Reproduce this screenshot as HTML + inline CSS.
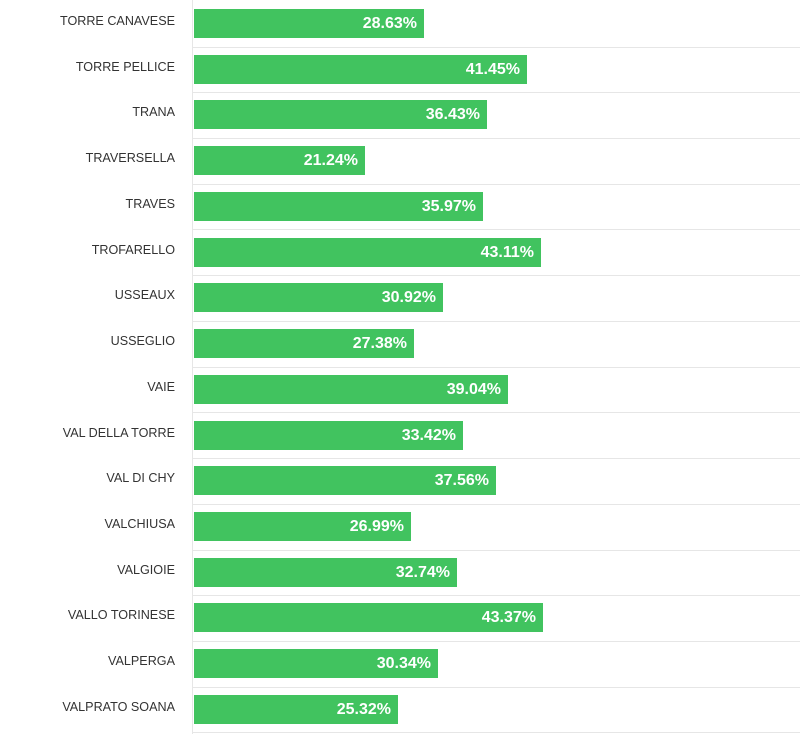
<!DOCTYPE html>
<html><head><style>
body{margin:0;width:800px;height:734px;background:#fff;position:relative;overflow:hidden;font-family:"Liberation Sans",Arial,sans-serif}
.ax{position:absolute;left:192px;top:0;width:1px;height:734px;background:#e6e6e6}
.g{position:absolute;left:193px;width:607px;height:1px;background:#e6e6e6}
.l{position:absolute;right:625px;font-size:12.6px;color:#333;white-space:nowrap;line-height:15px}
.b{position:absolute;left:194px;height:29px;background:#41c35f;color:#fff;font-weight:bold;font-size:16px;line-height:29px;text-align:right;box-sizing:border-box;padding-right:7px}
</style></head><body>
<div class="ax"></div>
<div id="c"></div>
<script>
var d=[["TORRE CANAVESE",28.63],["TORRE PELLICE",41.45],["TRANA",36.43],["TRAVERSELLA",21.24],["TRAVES",35.97],["TROFARELLO",43.11],["USSEAUX",30.92],["USSEGLIO",27.38],["VAIE",39.04],["VAL DELLA TORRE",33.42],["VAL DI CHY",37.56],["VALCHIUSA",26.99],["VALGIOIE",32.74],["VALLO TORINESE",43.37],["VALPERGA",30.34],["VALPRATO SOANA",25.32]];
var h="";
d.forEach(function(r,i){var y=9+i*45.73;
h+='<div class="g" style="top:'+Math.round(y+37.5)+'px"></div>';
h+='<div class="l" style="top:'+Math.round(y+5)+'px">'+r[0]+'</div>';
h+='<div class="b" style="top:'+Math.round(y)+'px;width:'+Math.round(r[1]*8.04)+'px">'+r[1].toFixed(2)+'%</div>';});
document.getElementById("c").innerHTML=h;
</script>
</body></html>
